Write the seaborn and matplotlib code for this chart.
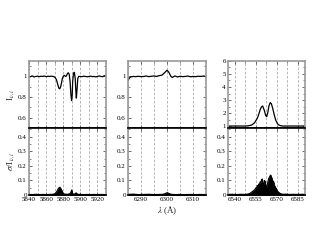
import numpy as np
import pandas as pd
import matplotlib
matplotlib.use('Agg')
import matplotlib.pyplot as plt
import seaborn as sns
from matplotlib.ticker import MultipleLocator, FormatStrFormatter

# --- DATA ---
# Panel 1: He I 5876 / Na D region
wl_na = [5840, 5841, 5842, 5844, 5846, 5848, 5850, 5852, 5854, 5856, 5858, 5860,
         5862, 5864, 5866, 5868, 5870, 5872, 5873, 5874, 5875, 5876, 5877, 5878,
         5879, 5880, 5881, 5882, 5883, 5884, 5885, 5886, 5887, 5888, 5889, 5889.8,
         5890.5, 5891, 5892, 5893, 5894, 5894.7, 5895.3, 5896, 5897, 5898, 5900,
         5902, 5904, 5906, 5908, 5910, 5912, 5914, 5916, 5918, 5920, 5922, 5924,
         5926, 5928, 5930]
flux_na = [1.0, 0.995, 1.0, 1.005, 0.995, 1.0, 1.003, 0.998, 1.002, 1.0, 1.004, 0.998,
           1.002, 1.0, 1.003, 1.0, 0.995, 0.97, 0.94, 0.91, 0.885, 0.88, 0.9, 0.94,
           0.98, 1.0, 1.01, 1.005, 1.0, 1.01, 1.03, 1.035, 1.02, 0.95, 0.82, 0.765,
           0.82, 0.95, 1.03, 1.04, 0.98, 0.86, 0.79, 0.86, 0.98, 1.0, 1.0,
           0.998, 1.002, 1.0, 0.997, 1.0, 1.003, 0.998, 1.0, 0.996, 1.0, 1.005, 1.0,
           0.997, 1.008, 1.002]
wl_na_err = [5840, 5844, 5848, 5852, 5856, 5860, 5864, 5868, 5870, 5872, 5873, 5874,
             5875, 5876, 5877, 5878, 5879, 5880, 5882, 5884, 5886, 5888, 5889, 5889.8,
             5890.5, 5891, 5892, 5894, 5895, 5895.5, 5896, 5897, 5900, 5904, 5908,
             5912, 5916, 5920, 5924, 5930]
err_na = [0.004, 0.003, 0.005, 0.003, 0.004, 0.003, 0.004, 0.005, 0.008, 0.02, 0.03, 0.042,
          0.05, 0.053, 0.045, 0.035, 0.02, 0.01, 0.006, 0.005, 0.006, 0.01, 0.02, 0.034,
          0.018, 0.008, 0.006, 0.008, 0.015, 0.012, 0.008, 0.005, 0.004, 0.003, 0.004,
          0.003, 0.004, 0.003, 0.004, 0.003]

# Panel 2: [O I] 6300 region
wl_oi = [6285, 6285.5, 6286, 6287, 6288, 6289, 6290, 6291, 6292, 6293, 6294, 6295,
         6296, 6297, 6298, 6299, 6300, 6300.7, 6301.5, 6302, 6303, 6304, 6305, 6306,
         6307, 6308, 6309, 6310, 6311, 6312, 6313, 6314, 6315]
flux_oi = [0.96, 0.985, 0.995, 1.0, 0.998, 1.002, 0.998, 1.0, 1.004, 0.998, 1.002, 1.005,
           1.0, 1.008, 1.012, 1.035, 1.06, 1.04, 1.0, 0.99, 1.005, 0.995, 1.002, 0.998,
           1.0, 1.004, 0.997, 1.0, 0.998, 1.002, 1.0, 1.004, 1.0]
wl_oi_err = [6285, 6287, 6289, 6291, 6293, 6295, 6297, 6298.5, 6299.3, 6300, 6300.7,
             6301.5, 6303, 6305, 6307, 6309, 6311, 6313, 6315]
err_oi = [0.004, 0.006, 0.003, 0.004, 0.005, 0.003, 0.004, 0.005, 0.01, 0.016, 0.011,
          0.005, 0.003, 0.004, 0.003, 0.004, 0.003, 0.004, 0.003]

# Panel 3: H-alpha region
wl_ha = [6535, 6538, 6541, 6544, 6547, 6549, 6550, 6552, 6554, 6556, 6557, 6558,
         6559, 6559.8, 6561, 6562, 6562.7, 6563.5, 6564.3, 6565.2, 6566, 6567, 6568,
         6569, 6570, 6571, 6572.5, 6574, 6577, 6580, 6583, 6586, 6590]
flux_ha = [1.0, 1.0, 1.0, 1.0, 1.0, 1.01, 1.03, 1.08, 1.25, 1.6, 1.9, 2.25,
           2.48, 2.54, 2.2, 1.8, 1.72, 2.05, 2.55, 2.8, 2.72, 2.35, 1.9,
           1.5, 1.25, 1.1, 1.03, 1.0, 1.0, 1.0, 1.0, 1.0, 1.0]
wl_ha_err = [6535, 6538, 6541, 6544, 6547, 6549, 6550.5, 6552, 6553, 6554, 6555, 6555.5,
             6556, 6556.5, 6557, 6557.5, 6558, 6558.5, 6559, 6559.5, 6560, 6560.5, 6561,
             6561.5, 6562, 6562.5, 6563, 6563.5, 6564, 6564.5, 6565, 6565.5, 6566,
             6566.5, 6567, 6567.5, 6568, 6568.5, 6569, 6569.5, 6570, 6571, 6572, 6573,
             6574, 6576, 6579, 6582, 6585, 6588, 6590]
err_ha = [0.004, 0.005, 0.003, 0.005, 0.004, 0.006, 0.01, 0.02, 0.028, 0.035, 0.05, 0.045,
          0.065, 0.055, 0.075, 0.07, 0.09, 0.085, 0.105, 0.11, 0.06, 0.075, 0.1,
          0.095, 0.06, 0.048, 0.07, 0.09, 0.11, 0.12, 0.13, 0.137, 0.125,
          0.11, 0.09, 0.095, 0.07, 0.06, 0.05, 0.045, 0.03, 0.02, 0.012, 0.008,
          0.005, 0.006, 0.004, 0.005, 0.004, 0.005, 0.004]

PANELS = [
    dict(wl=wl_na, flux=flux_na, wl_err=wl_na_err, err=err_na, xlim=(5840, 5930),
         xmajor=20, xgrid=10, ylim=(0.5, 1.15), ymajor=0.2, yminor=0.1),
    dict(wl=wl_oi, flux=flux_oi, wl_err=wl_oi_err, err=err_oi, xlim=(6285, 6315),
         xmajor=10, xgrid=5, ylim=(0.5, 1.15), ymajor=0.2, yminor=0.1),
    dict(wl=wl_ha, flux=flux_ha, wl_err=wl_ha_err, err=err_ha, xlim=(6535, 6590),
         xmajor=15, xgrid=7.5, ylim=(0.85, 6.0), ymajor=1, yminor=0.5),
]

sns.set_theme(style='ticks')
plt.rcParams['font.family'] = ['Liberation Serif', 'DejaVu Serif']
plt.rcParams['mathtext.fontset'] = 'stix'

SPINE = '#999999'
GRID = '#aaaaaa'

fig = plt.figure(figsize=(3.17, 2.45), dpi=100)
lefts = [0.0915, 0.404, 0.719]
widths = [0.243, 0.246, 0.243]


def style_axis(ax, p, ylim, ymajor, yminor, show_xlabels):
    ax.set_xlim(p['xlim'])
    ax.set_ylim(ylim)
    ax.xaxis.set_major_locator(MultipleLocator(p['xmajor']))
    ax.xaxis.set_minor_locator(MultipleLocator(p['xgrid']))
    ax.yaxis.set_major_locator(MultipleLocator(ymajor))
    ax.yaxis.set_minor_locator(MultipleLocator(yminor))
    ax.yaxis.set_major_formatter(plt.FuncFormatter(lambda v, _: f'{v:g}'))
    ax.tick_params(which='both', direction='in', top=True, right=True,
                   labelsize=5, pad=1.5, colors='#555555', labelcolor='black')
    ax.tick_params(which='major', length=2.5, width=0.6)
    ax.tick_params(which='minor', length=1.5, width=0.5)
    if not show_xlabels:
        ax.tick_params(axis='x', labelbottom=False)
    for s in ax.spines.values():
        s.set_color(SPINE)
        s.set_linewidth(1.2)
    # vertical dashed grid at every minor x position inside the panel
    ax.grid(True, axis='x', which='both', color=GRID, ls=(0, (3, 2)), lw=0.6)
    ax.set_xlabel('')
    ax.set_ylabel('')


for i, p in enumerate(PANELS):
    # upper: normalised intensity
    ax_top = fig.add_axes([lefts[i], 0.4776, widths[i], 0.2735])
    df = pd.DataFrame({'wl': p['wl'], 'flux': p['flux']})
    sns.lineplot(data=df, x='wl', y='flux', ax=ax_top, color='black', lw=0.9)
    style_axis(ax_top, p, p['ylim'], p['ymajor'], p['yminor'], False)
    ax_top.spines['bottom'].set_color('black')

    # lower: relative variability, filled
    ax_bot = fig.add_axes([lefts[i], 0.2041, widths[i], 0.2735])
    de = pd.DataFrame({'wl': p['wl_err'], 'err': p['err']})
    sns.lineplot(data=de, x='wl', y='err', ax=ax_bot, color='black', lw=0.8)
    ax_bot.fill_between(de['wl'], 0, de['err'], color='black', lw=0.4)
    style_axis(ax_bot, p, (0, 0.46), 0.1, 0.05, True)
    ax_bot.spines['top'].set_color('black')
    ax_bot.spines['bottom'].set_color('black')
    ax_bot.xaxis.set_major_formatter(FormatStrFormatter('%d'))

    if i == 0:
        ax_top.set_ylabel(r'I$_{\nu,i}$', fontsize=6.5, labelpad=1)
        ax_bot.set_ylabel(r'$\sigma$/I$_{\nu,i}$', fontsize=6.5, labelpad=1)
    if i == 1:
        ax_bot.set_xlabel(r'$\lambda$ (Å)', fontsize=6.5, labelpad=2)

plt.savefig('out.png', dpi=100)
